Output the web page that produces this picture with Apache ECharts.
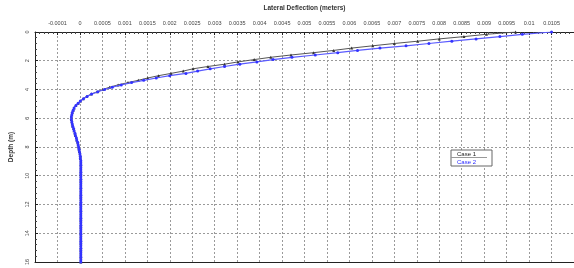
<!DOCTYPE html>
<html>
<head>
<meta charset="utf-8">
<script src="https://cdn.jsdelivr.net/npm/echarts@6/dist/echarts.min.js"></script>
<style>
  html, body { margin: 0; padding: 0; background: #fff; }
  #chart { width: 574px; height: 268px; }
</style>
</head>
<body>
<div id="chart"></div>
<script>
// depth nodes (m), shared by both cases
var depths = [
  0, 0.16, 0.32, 0.48, 0.64, 0.8, 0.96, 1.12, 1.28, 1.44,
  1.6, 1.76, 1.92, 2.08, 2.24, 2.4, 2.56, 2.72, 2.88, 3.04,
  3.2, 3.36, 3.52, 3.68, 3.84, 4, 4.16, 4.32, 4.48, 4.64,
  4.8, 4.96, 5.12, 5.28, 5.44, 5.6, 5.76, 5.92, 6.08, 6.24,
  6.4, 6.56, 6.72, 6.88, 7.04, 7.2, 7.36, 7.52, 7.68, 7.84,
  8, 8.16, 8.32, 8.48, 8.64, 8.8, 8.96, 9.12, 9.28, 9.44,
  9.6, 9.76, 9.92, 10.08, 10.24, 10.4, 10.56, 10.72, 10.88, 11.04,
  11.2, 11.36, 11.52, 11.68, 11.84, 12, 12.16, 12.32, 12.48, 12.64,
  12.8, 12.96, 13.12, 13.28, 13.44, 13.6, 13.76, 13.92, 14.08, 14.24,
  14.4, 14.56, 14.72, 14.88, 15.04, 15.2, 15.36, 15.52, 15.68, 15.84, 16
];

// lateral deflection (m)
var case1 = [
  0.0097, 0.00905, 0.00855, 0.008, 0.00752, 0.007, 0.00652, 0.00605, 0.00565, 0.0052,
  0.0047, 0.00425, 0.00388, 0.00352, 0.00322, 0.00285, 0.00252, 0.0023, 0.00203, 0.00175,
  0.00151, 0.0013, 0.00107, 0.00085, 0.00066, 0.00051, 0.00038, 0.00025, 0.00015, 0.00007,
  0.00001, -0.00004, -0.00009, -0.00013, -0.00015, -0.00017, -0.00018, -0.00019, -0.00019, -0.00018,
  -0.00017, -0.00016, -0.00014, -0.00013, -0.00011, -0.0001, -0.00008, -0.00007, -0.00005, -0.00004,
  -0.00003, -0.00002, -0.00001, 0, 0.00001, 0.00001, 0.00002, 0.00002, 0.00002, 0.00002,
  0.00002, 0.00002, 0.00002, 0.00002, 0.00002, 0.00002, 0.00002, 0.00002, 0.00002, 0.00002,
  0.00002, 0.00002, 0.00002, 0.00002, 0.00002, 0.00002, 0.00002, 0.00002, 0.00002, 0.00002,
  0.00002, 0.00002, 0.00002, 0.00002, 0.00002, 0.00002, 0.00002, 0.00002, 0.00002, 0.00002,
  0.00002, 0.00002, 0.00002, 0.00002, 0.00002, 0.00002, 0.00002, 0.00002, 0.00002, 0.00002, 0.00002
];
var case2 = [
  0.0105, 0.00985, 0.00935, 0.00882, 0.00828, 0.00777, 0.00726, 0.00668, 0.00618, 0.00574,
  0.00524, 0.00472, 0.0043, 0.00394, 0.00356, 0.00322, 0.0029, 0.00262, 0.00236, 0.002,
  0.0017, 0.00142, 0.00115, 0.00092, 0.00072, 0.00055, 0.0004, 0.00026, 0.00016, 0.00008,
  0.00001, -0.00004, -0.00009, -0.00013, -0.00015, -0.00017, -0.00018, -0.00019, -0.00019, -0.00018,
  -0.00017, -0.00016, -0.00014, -0.00013, -0.00011, -0.0001, -0.00008, -0.00007, -0.00005, -0.00004,
  -0.00003, -0.00002, -0.00001, 0, 0.00001, 0.00001, 0.00002, 0.00002, 0.00002, 0.00002,
  0.00002, 0.00002, 0.00002, 0.00002, 0.00002, 0.00002, 0.00002, 0.00002, 0.00002, 0.00002,
  0.00002, 0.00002, 0.00002, 0.00002, 0.00002, 0.00002, 0.00002, 0.00002, 0.00002, 0.00002,
  0.00002, 0.00002, 0.00002, 0.00002, 0.00002, 0.00002, 0.00002, 0.00002, 0.00002, 0.00002,
  0.00002, 0.00002, 0.00002, 0.00002, 0.00002, 0.00002, 0.00002, 0.00002, 0.00002, 0.00002, 0.00002
];

var xTickLabels = ['-0.0001', '0', '0.0005', '0.001', '0.0015', '0.002', '0.0025', '0.003',
  '0.0035', '0.004', '0.0045', '0.005', '0.0055', '0.006', '0.0065', '0.007', '0.0075',
  '0.008', '0.0085', '0.009', '0.0095', '0.01', '0.0105'];

function pairs(vals) {
  return vals.map(function (v, i) { return [v, depths[i]]; });
}

var chart = echarts.init(document.getElementById('chart'));

var grid_line = { show: true, lineStyle: { color: '#9a9a9a', type: [2, 2], width: 1 } };

var option = {
  animation: false,
  backgroundColor: '#fff',
  grid: { left: 34, right: 0, top: 30, bottom: 1 },
  legend: {
    orient: 'vertical',
    left: 451,
    top: 150,
    icon: 'none',
    itemWidth: 0,
    itemHeight: 6,
    itemGap: 2,
    padding: [1, 16, 1, 1],
    backgroundColor: '#fff',
    borderColor: '#666',
    borderWidth: 1,
    textStyle: { fontSize: 6, fontFamily: 'Liberation Sans' },
    data: [
      { name: 'Case 1', textStyle: { color: '#222' } },
      { name: 'Case 2', textStyle: { color: '#2a2aff' } }
    ]
  },
  graphic: [{
    type: 'line',
    shape: { x1: 451, y1: 157.5, x2: 487, y2: 157.5 },
    style: { stroke: '#999', lineWidth: 1 },
    z: 100
  }],
  xAxis: [{
    type: 'value',
    position: 'top',
    min: -0.001,
    max: 0.011,
    interval: 0.0005,
    name: 'Lateral Deflection (meters)',
    nameLocation: 'middle',
    nameGap: 20,
    nameTextStyle: { fontSize: 6.5, fontWeight: 'bold', color: '#333', fontFamily: 'Liberation Sans' },
    axisLine: { show: true, lineStyle: { color: '#222', width: 1 } },
    axisTick: { show: true, inside: true, length: 3, lineStyle: { color: '#222' } },
    minorTick: { show: true, splitNumber: 5, length: 2, lineStyle: { color: '#444' } },
    axisLabel: {
      fontSize: 5.5, color: '#444', margin: 6, fontFamily: 'Liberation Sans',
      showMinLabel: false, showMaxLabel: false,
      formatter: function (v) {
        var i = Math.round((v + 0.0005) / 0.0005);
        return xTickLabels[i] !== undefined ? xTickLabels[i] : '';
      }
    },
    splitLine: grid_line
  }, {
    type: 'value',
    position: 'bottom',
    min: -0.001,
    max: 0.011,
    axisLine: { show: true, onZero: false, lineStyle: { color: '#222' } },
    axisTick: { show: false },
    axisLabel: { show: false },
    splitLine: { show: false }
  }],
  yAxis: {
    type: 'value',
    inverse: true,
    min: 0,
    max: 16,
    interval: 2,
    name: 'Depth (m)',
    nameLocation: 'middle',
    nameGap: 20,
    nameRotate: 90,
    nameTextStyle: { fontSize: 6.5, fontWeight: 'bold', color: '#333', fontFamily: 'Liberation Sans' },
    axisLine: { show: true, onZero: false, lineStyle: { color: '#222', width: 1 } },
    axisTick: { show: true, inside: true, length: 3, lineStyle: { color: '#222' } },
    minorTick: { show: true, splitNumber: 5, length: 2, lineStyle: { color: '#444' } },
    axisLabel: { fontSize: 5.5, color: '#444', margin: 5, rotate: 90, fontFamily: 'Liberation Sans' },
    splitLine: grid_line
  },
  series: [{
    name: 'Case 1',
    type: 'line',
    xAxisIndex: 0,
    data: pairs(case1),
    symbol: 'triangle',
    symbolSize: 3,
    itemStyle: { color: '#333' },
    lineStyle: { color: '#555', width: 1 },
    z: 3
  }, {
    name: 'Case 2',
    type: 'line',
    xAxisIndex: 0,
    data: pairs(case2),
    symbol: 'circle',
    symbolSize: 3,
    itemStyle: { color: '#3333ff' },
    lineStyle: { color: '#5a5aff', width: 1.2 },
    z: 4
  }]
};

chart.setOption(option);
</script>
</body>
</html>
